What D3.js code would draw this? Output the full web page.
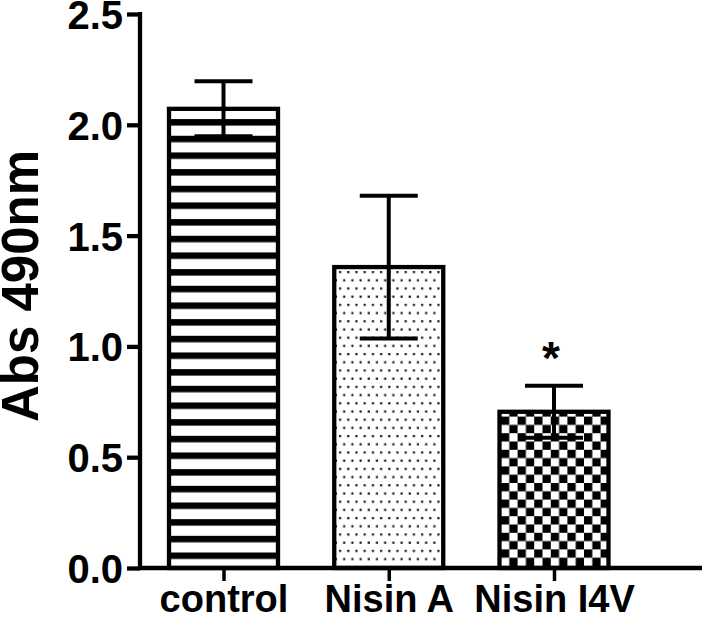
<!DOCTYPE html>
<html>
<head>
<meta charset="utf-8">
<script src="https://cdn.jsdelivr.net/npm/d3@7"></script>
<style>
  html, body { margin: 0; padding: 0; background: #fff; }
  svg { display: block; }
  text { font-family: "Liberation Sans", Arial, sans-serif; font-weight: bold; fill: #000; }
</style>
</head>
<body>
<svg id="chart" width="703" height="619"></svg>
<script>
// ---- data ----
const categories = ["control", "Nisin A", "Nisin I4V"];
const means = [2.072, 1.358, 0.705];
const sems = [0.124, 0.322, 0.117];
const significance = ["", "", "*"];
const yTicks = [0.0, 0.5, 1.0, 1.5, 2.0, 2.5];
const yTickLabels = ["0.0", "0.5", "1.0", "1.5", "2.0", "2.5"];
const yTitle = "Abs 490nm";
const patterns = ["stripes", "dots", "checker"];

// ---- layout ----
const W = 703, H = 619;
const axisX = 140, axisRight = 702;
const y0px = 568, yTopPx = 14;

const svg = d3.select("#chart");
const y = d3.scaleLinear().domain([0, 2.5]).range([y0px, yTopPx]);
const x = d3.scalePoint().domain(categories).range([223.5, 554]);
const barW = 109;

// ---- patterns ----
const defs = svg.append("defs");
// horizontal stripes
const stripeP = 16.67, stripeH = 6.5;
const sp = defs.append("pattern").attr("id", "stripes")
  .attr("patternUnits", "userSpaceOnUse")
  .attr("width", 20).attr("height", stripeP)
  .attr("y", (y0px - 15.5) % stripeP);
sp.append("rect").attr("width", 20).attr("height", stripeP).attr("fill", "#fff");
sp.append("rect").attr("y", 0).attr("width", 20).attr("height", stripeH).attr("fill", "#000");

// dots
const dStep = 8.2;
const dp = defs.append("pattern").attr("id", "dots")
  .attr("patternUnits", "userSpaceOnUse")
  .attr("width", dStep).attr("height", dStep * 2)
  .attr("x", 338).attr("y", 270);
dp.append("rect").attr("width", dStep).attr("height", dStep * 2).attr("fill", "#fff");
dp.append("rect").attr("x", 1).attr("y", 1).attr("width", 2.2).attr("height", 2.2).attr("fill", "#1a1a1a");
dp.append("rect").attr("x", 1 + dStep / 2).attr("y", 1 + dStep).attr("width", 2.2).attr("height", 2.2).attr("fill", "#1a1a1a");

// checkerboard
const cS = 8.3;
const cp = defs.append("pattern").attr("id", "checker")
  .attr("patternUnits", "userSpaceOnUse")
  .attr("width", cS * 2).attr("height", cS * 2)
  .attr("x", 501).attr("y", y0px - 2);
cp.append("rect").attr("width", cS * 2).attr("height", cS * 2).attr("fill", "#fff");
cp.append("rect").attr("x", 0).attr("y", 0).attr("width", cS).attr("height", cS).attr("fill", "#000");
cp.append("rect").attr("x", cS).attr("y", cS).attr("width", cS).attr("height", cS).attr("fill", "#000");

// ---- bars ----
const data = categories.map((c, i) => ({ c, m: means[i], s: sems[i], sig: significance[i], p: patterns[i] }));

svg.append("g").selectAll("rect").data(data).join("rect")
  .attr("x", d => x(d.c) - barW / 2)
  .attr("y", d => y(d.m))
  .attr("width", barW)
  .attr("height", d => y(0) - y(d.m))
  .attr("fill", d => `url(#${d.p})`)
  .attr("stroke", "#000")
  .attr("stroke-width", 4.3);

// ---- error bars ----
const capHalf = 29;
const eb = svg.append("g").attr("stroke", "#000").attr("stroke-width", 4).attr("fill", "none");
data.forEach(d => {
  const cx = x(d.c);
  eb.append("line").attr("x1", cx).attr("x2", cx).attr("y1", y(d.m + d.s)).attr("y2", y(d.m - d.s));
  eb.append("line").attr("x1", cx - capHalf).attr("x2", cx + capHalf).attr("y1", y(d.m + d.s)).attr("y2", y(d.m + d.s));
  eb.append("line").attr("x1", cx - capHalf).attr("x2", cx + capHalf).attr("y1", y(d.m - d.s)).attr("y2", y(d.m - d.s));
});

// significance markers
svg.append("g").selectAll("text").data(data.filter(d => d.sig)).join("text")
  .attr("x", d => x(d.c) - 3)
  .attr("y", d => y(d.m + d.s) - 12)
  .attr("text-anchor", "middle")
  .attr("font-size", 46)
  .text(d => d.sig);

// ---- y axis ----
const yAxis = d3.axisLeft(y).tickValues(yTicks).tickFormat((d, i) => yTickLabels[i]).tickSize(13).tickPadding(4);
const gy = svg.append("g").attr("transform", `translate(${axisX},0)`).call(yAxis);
gy.select(".domain").remove();
gy.append("line").attr("x1", 0).attr("x2", 0).attr("y1", yTopPx - 2).attr("y2", y0px + 2)
  .attr("stroke", "#000").attr("stroke-width", 4.3);
gy.selectAll(".tick line").attr("stroke", "#000").attr("stroke-width", 4.3);
gy.selectAll(".tick text").attr("font-size", 40).attr("fill", "#000")
  .attr("font-family", "'Liberation Sans', Arial, sans-serif").attr("font-weight", "bold")
  .attr("dy", "0.36em");

// ---- x axis ----
const xAxis = d3.axisBottom(x).tickSize(13).tickPadding(8);
const gx = svg.append("g").attr("transform", `translate(0,${y0px})`).call(xAxis);
gx.select(".domain").remove();
gx.append("line").attr("x1", axisX - 2).attr("x2", axisRight).attr("y1", 0).attr("y2", 0)
  .attr("stroke", "#000").attr("stroke-width", 4.3);
gx.selectAll(".tick line").attr("stroke", "#000").attr("stroke-width", 3.5);
gx.selectAll(".tick text").attr("font-size", 38).attr("fill", "#000")
  .attr("font-family", "'Liberation Sans', Arial, sans-serif").attr("font-weight", "bold")
  .attr("dy", null).attr("y", 44);

// ---- y title ----
svg.append("text")
  .attr("transform", `translate(38,286) rotate(-90)`)
  .attr("text-anchor", "middle")
  .attr("font-size", 51)
  .text(yTitle);
</script>
</body>
</html>
